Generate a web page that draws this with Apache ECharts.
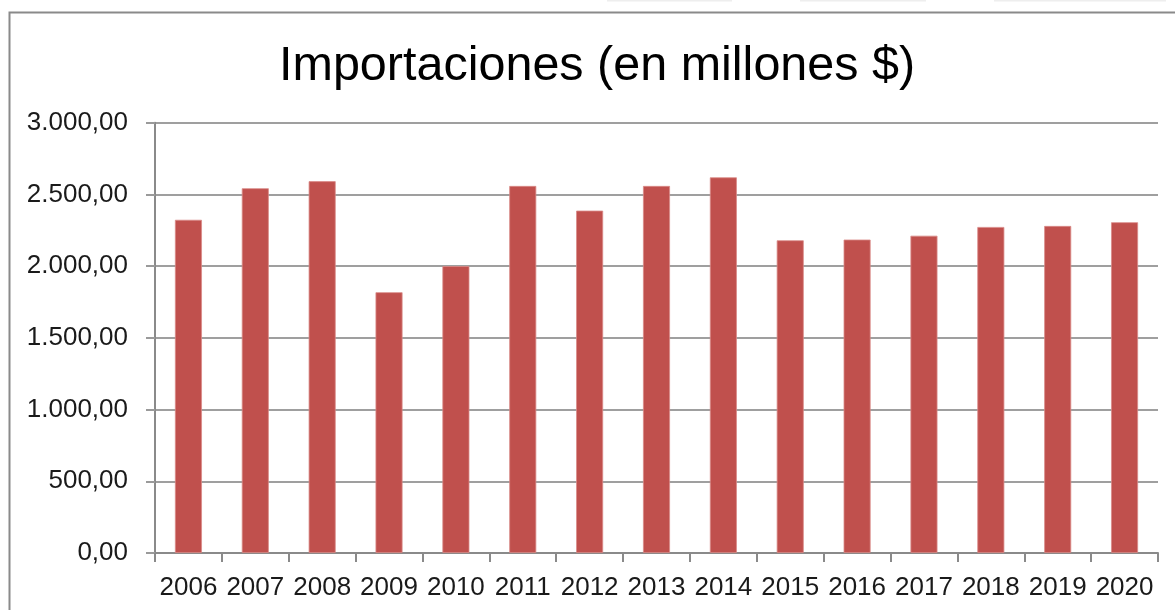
<!DOCTYPE html>
<html>
<head>
<meta charset="utf-8">
<script src="https://cdn.jsdelivr.net/npm/echarts@6/dist/echarts.min.js"></script>
<style>
  html, body { margin: 0; padding: 0; background: #fff; }
  #chart { width: 1175px; height: 610px; }
</style>
</head>
<body>
<div id="chart"></div>
<script>
// Imports by year, in millions of dollars
const years = ['2006','2007','2008','2009','2010','2011','2012','2013','2014','2015','2016','2017','2018','2019','2020'];
const imports = [2323, 2543, 2592, 1818, 2000, 2559, 2387, 2559, 2619, 2180, 2185, 2212, 2273, 2280, 2306];
const chartTitle = 'Importaciones (en millones $)';

// Spanish-style number: thousands with '.', decimals with ','
function fmt(v) {
  const fixed = v.toFixed(2).split('.');
  const intPart = fixed[0].replace(/\B(?=(\d{3})+(?!\d))/g, '.');
  return intPart + ',' + fixed[1];
}

const chart = echarts.init(document.getElementById('chart'), null, { renderer: 'canvas' });
const font = '"Liberation Sans", Arial, Helvetica, sans-serif';

chart.setOption({
  animation: false,
  backgroundColor: '#ffffff',
  title: {
    text: chartTitle,
    left: 274,
    top: 37,
    textStyle: { fontFamily: font, fontSize: 48.5, fontWeight: 'normal', color: '#000' }
  },
  graphic: [
    // outer frame (continues past the right and bottom edges)
    { type: 'rect', shape: { x: 9.5, y: 12.5, width: 1300, height: 700 },
      style: { fill: 'none', stroke: '#8a8a8a', lineWidth: 2 }, z: 0, silent: true },
    // faint tab edges along the top
    { type: 'line', shape: { x1: 607, y1: 0.5, x2: 732, y2: 0.5 }, style: { stroke: '#eeeeee', lineWidth: 2 }, silent: true },
    { type: 'line', shape: { x1: 800, y1: 0.5, x2: 926, y2: 0.5 }, style: { stroke: '#eeeeee', lineWidth: 2 }, silent: true },
    { type: 'line', shape: { x1: 994, y1: 0.5, x2: 1166, y2: 0.5 }, style: { stroke: '#eeeeee', lineWidth: 2 }, silent: true }
  ],
  grid: { left: 155, right: 17, top: 122.7, bottom: 57, containLabel: false },
  xAxis: {
    type: 'category',
    data: years,
    boundaryGap: true,
    axisLine: { show: true, lineStyle: { color: '#8a8a8a', width: 2 } },
    axisTick: { show: true, interval: 0, alignWithLabel: false, length: 9, lineStyle: { color: '#8a8a8a', width: 2 } },
    axisLabel: { interval: 0, margin: 22, fontFamily: font, fontSize: 26, color: '#1a1a1a' }
  },
  yAxis: {
    type: 'value',
    min: 0,
    max: 3000,
    interval: 500,
    axisLine: { show: true, lineStyle: { color: '#8a8a8a', width: 2 } },
    axisTick: { show: true, length: 9, lineStyle: { color: '#9a9a9a', width: 2 } },
    splitLine: { show: true, lineStyle: { color: '#9f9f9f', width: 2 } },
    axisLabel: { margin: 27, fontFamily: font, fontSize: 26, color: '#1a1a1a', formatter: fmt }
  },
  series: [{
    type: 'bar',
    data: imports,
    barWidth: 27,
    itemStyle: { color: '#c0504d', borderColor: '#d98a88', borderWidth: 0.8 }
  }]
});
</script>
</body>
</html>
